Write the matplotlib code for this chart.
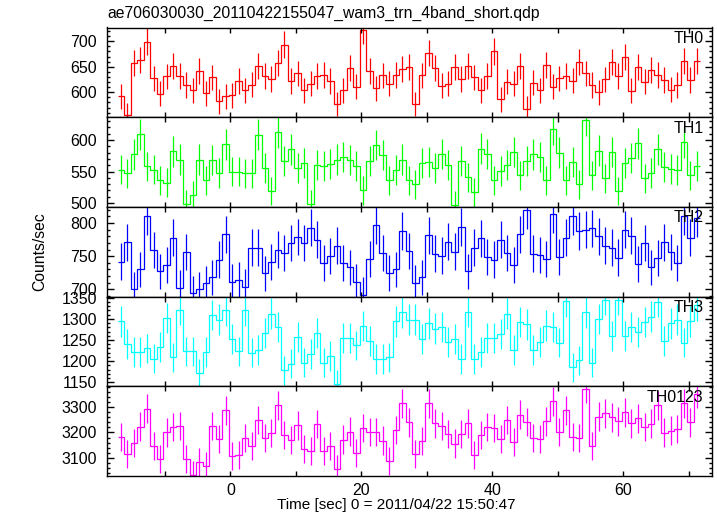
#!/usr/bin/env python3
"""
WAM light curve, 4 energy bands + sum (QDP style stacked panels).
"""

import numpy as np
import matplotlib
matplotlib.use('Agg')
import matplotlib.pyplot as plt
from matplotlib.ticker import MultipleLocator

plt.rcParams['font.family'] = ['Liberation Sans', 'DejaVu Sans']

title = 'ae706030030_20110422155047_wam3_trn_4band_short.qdp'
xlabel = 'Time [sec] 0 = 2011/04/22 15:50:47'
ylabel = 'Counts/sec'

# 1 s bins, first bin centred at -16.75 s
t_start = -16.75
bin_width = 1.0

bands = ['TH0', 'TH1', 'TH2', 'TH3', 'TH0123']

th0 = [592, 555, 658, 663, 699, 627, 597, 631, 651, 632,
       614, 604, 641, 598, 629, 582, 592, 594, 622, 604,
       615, 652, 632, 626, 658, 693, 622, 637, 604, 617,
       632, 634, 622, 577, 604, 647, 611, 722, 641, 608,
       633, 617, 634, 645, 650, 577, 633, 677, 647, 613,
       617, 650, 626, 651, 629, 604, 632, 680, 586, 621,
       617, 652, 568, 619, 604, 654, 611, 627, 632, 623,
       659, 637, 614, 600, 625, 659, 632, 669, 603, 650,
       621, 643, 634, 624, 605, 614, 662, 624, 662]

th1 = [553, 547, 577, 609, 558, 553, 536, 532, 582, 569,
       499, 513, 569, 536, 568, 548, 593, 550, 550, 547,
       547, 608, 556, 519, 612, 566, 585, 556, 563, 498,
       561, 559, 562, 569, 573, 568, 559, 520, 567, 592,
       576, 536, 552, 569, 536, 530, 563, 565, 555, 578,
       561, 497, 567, 541, 517, 586, 578, 536, 551, 560,
       581, 544, 566, 577, 573, 536, 617, 580, 536, 565,
       530, 632, 544, 583, 539, 581, 519, 563, 572, 595,
       539, 548, 585, 557, 554, 552, 596, 544, 559]

th2 = [742, 771, 700, 730, 810, 759, 727, 737, 778, 702,
       756, 694, 700, 709, 718, 745, 783, 711, 714, 704,
       763, 763, 724, 741, 760, 755, 770, 779, 770, 793,
       775, 740, 750, 766, 740, 733, 711, 692, 746, 797,
       755, 725, 730, 788, 758, 710, 718, 782, 754, 751,
       772, 757, 794, 727, 763, 777, 749, 745, 775, 755,
       737, 783, 820, 754, 752, 746, 814, 749, 778, 810,
       788, 790, 792, 780, 766, 763, 748, 790, 781, 738,
       770, 733, 747, 771, 756, 740, 810, 778, 808]

th3 = [1294, 1240, 1221, 1221, 1230, 1206, 1233, 1302, 1209, 1321,
       1223, 1223, 1171, 1222, 1309, 1298, 1320, 1252, 1223, 1320,
       1220, 1226, 1266, 1312, 1280, 1179, 1194, 1256, 1196, 1217,
       1266, 1196, 1212, 1145, 1254, 1255, 1237, 1283, 1248, 1205,
       1205, 1209, 1294, 1315, 1298, 1298, 1252, 1289, 1277, 1280,
       1245, 1252, 1205, 1317, 1205, 1222, 1255, 1254, 1264, 1312,
       1226, 1293, 1287, 1226, 1245, 1284, 1280, 1244, 1342, 1186,
       1202, 1315, 1196, 1300, 1345, 1259, 1345, 1260, 1280, 1268,
       1292, 1305, 1340, 1247, 1289, 1298, 1244, 1294, 1332]

th0123 = [3181, 3113, 3157, 3223, 3295, 3146, 3093, 3200, 3222, 3225,
          3093, 3032, 3081, 3066, 3225, 3173, 3288, 3105, 3109, 3177,
          3145, 3250, 3177, 3197, 3308, 3190, 3169, 3228, 3133, 3125,
          3234, 3126, 3145, 3056, 3172, 3203, 3120, 3217, 3202, 3202,
          3168, 3087, 3210, 3316, 3240, 3115, 3165, 3316, 3236, 3226,
          3194, 3156, 3194, 3236, 3112, 3190, 3221, 3217, 3174, 3250,
          3162, 3271, 3242, 3177, 3173, 3244, 3324, 3201, 3289, 3183,
          3178, 3374, 3146, 3263, 3276, 3260, 3244, 3281, 3236, 3256,
          3221, 3235, 3308, 3199, 3207, 3213, 3316, 3240, 3354]

series = [th0, th1, th2, th3, th0123]
colors = ['#ff0000', '#00ff00', '#0000ff', '#00ffff', '#ff00ff']
ylims = [(551, 727), (494, 636), (689, 824.5), (1140.6, 1352.5), (3027, 3383.5)]
ymajor = [50, 50, 50, 50, 100]
yminor = [10, 10, 10, 10, 20]
xlim = (-18.9, 73.5)


def main():
    W, H = 717, 516
    fig = plt.figure(figsize=(W / 100, H / 100), dpi=100)

    left, right = 106.7, 711.7
    top, bottom = 27.5, 476.0
    ph = (bottom - top) / len(bands)

    n = len(th0)
    t = t_start + bin_width * np.arange(n)
    edges = t_start - bin_width / 2 + bin_width * np.arange(n + 1)

    for i, (name, vals, c) in enumerate(zip(bands, series, colors)):
        y0 = top + i * ph
        ax = fig.add_axes([left / W, 1 - (y0 + ph) / H, (right - left) / W, ph / H])
        vals = np.array(vals, dtype=float)
        err = np.sqrt(vals)  # Poisson errors for 1 s bins

        ax.errorbar(t, vals, yerr=err, fmt='none', ecolor=c, elinewidth=0.9, capsize=0)
        ax.stairs(vals, edges, baseline=None, color=c, lw=0.9)

        ax.set_xlim(*xlim)
        ax.set_ylim(*ylims[i])
        ax.xaxis.set_major_locator(MultipleLocator(20))
        ax.xaxis.set_minor_locator(MultipleLocator(10))
        ax.yaxis.set_major_locator(MultipleLocator(ymajor[i]))
        ax.yaxis.set_minor_locator(MultipleLocator(yminor[i]))

        ax.tick_params(which='both', direction='in', top=True, right=True,
                       width=1.0, labelsize=11.5, color='black')
        ax.tick_params(axis='y', which='major', length=5, pad=7)
        ax.tick_params(axis='y', which='minor', length=2.5)
        ax.tick_params(axis='x', which='both', length=3.5, pad=5)
        if i < len(bands) - 1:
            ax.tick_params(axis='x', labelbottom=False)

        for sp in ax.spines.values():
            sp.set_linewidth(1.0)

        ax.annotate(name, xy=(1, 1), xycoords='axes fraction', xytext=(-8, -3.5),
                    textcoords='offset pixels', ha='right', va='top', fontsize=11.5)

    fig.text(107.7 / W, 1 - 18.3 / H, title, ha='left', va='baseline', fontsize=11.3)
    fig.text(276.7 / W, 1 - 509 / H, xlabel, ha='left', va='baseline', fontsize=11)
    fig.text(40 / W, 1 - 252 / H, ylabel, ha='center', va='center', rotation=90, fontsize=11.3)

    fig.savefig('out.png', dpi=100)
    plt.close(fig)


if __name__ == "__main__":
    main()
